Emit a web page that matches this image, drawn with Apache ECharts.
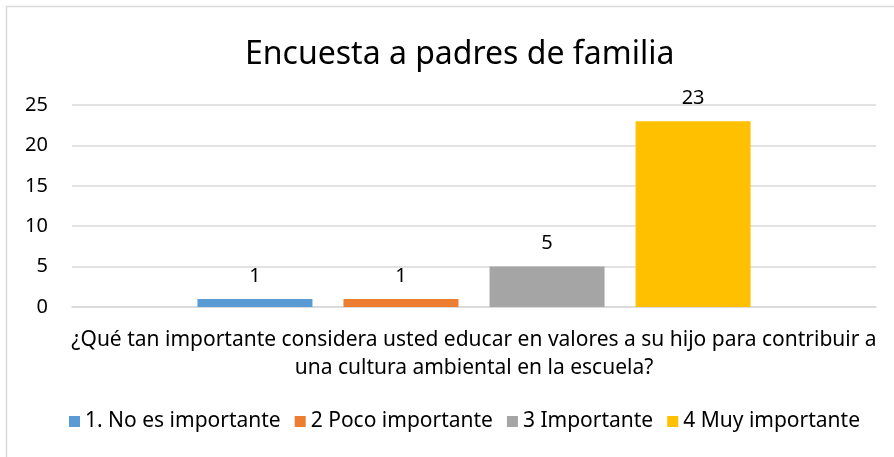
<!DOCTYPE html>
<html>
<head>
<meta charset="utf-8">
<script src="https://cdn.jsdelivr.net/npm/echarts@6/dist/echarts.min.js"></script>
<style>
  html, body { margin: 0; padding: 0; background: #fff; }
  #chart { width: 894px; height: 457px; }
</style>
</head>
<body>
<div id="chart"></div>
<script>
  // datos de la encuesta
  var categories = [''];
  var seriesNames = ['1. No es importante', '2 Poco importante', '3 Importante', '4 Muy importante'];
  var seriesValues = [[1], [1], [5], [23]];
  var seriesColors = ['#5B9BD5', '#ED7D31', '#A5A5A5', '#FFC000'];
  var yTicks = [0, 5, 10, 15, 20, 25];

  var font = 'Noto Sans';
  var chart = echarts.init(document.getElementById('chart'));

  var series = seriesNames.map(function (name, i) {
    return {
      name: name,
      type: 'bar',
      data: seriesValues[i],
      barWidth: 115,
      barGap: '27%',
      itemStyle: { color: seriesColors[i] },
      label: {
        show: true,
        position: 'top',
        distance: 13,
        color: '#000',
        fontFamily: font,
        fontSize: 20
      }
    };
  });

  chart.setOption({
    animation: false,
    title: {
      text: 'Encuesta a padres de familia',
      left: 240,
      top: 34,
      textStyle: { fontFamily: font, fontSize: 32, fontWeight: 'normal', color: '#000' }
    },
    graphic: [{
      type: 'rect',
      shape: { x: 6.5, y: 6.5, width: 900, height: 470 },
      style: { fill: 'none', stroke: '#d9d9d9', lineWidth: 1.5 }
    }],
    legend: {
      bottom: 20,
      left: 64,
      itemWidth: 11,
      itemHeight: 11,
      itemGap: 14,
      icon: 'rect',
      textStyle: { fontFamily: font, fontSize: 21, color: '#000' },
      data: seriesNames
    },
    grid: { left: 72, right: 18, top: 105, bottom: 150 },
    xAxis: {
      type: 'category',
      data: categories,
      axisLine: { lineStyle: { color: '#d9d9d9', width: 1.5 } },
      axisTick: { show: false },
      axisLabel: { show: false },
      name: '¿Qué tan importante considera usted educar en valores a su hijo para contribuir a\nuna cultura ambiental en la escuela?',
      nameLocation: 'middle',
      nameGap: 19,
      nameTextStyle: { fontFamily: font, fontSize: 21, color: '#000', lineHeight: 28 }
    },
    yAxis: {
      type: 'value',
      min: yTicks[0],
      max: yTicks[yTicks.length - 1],
      interval: yTicks[1] - yTicks[0],
      axisLine: { show: false },
      axisTick: { show: false },
      axisLabel: { fontFamily: font, fontSize: 20, color: '#000', margin: 24 },
      splitLine: { lineStyle: { color: '#d9d9d9', width: 1.5 } }
    },
    series: series
  });
</script>
</body>
</html>
